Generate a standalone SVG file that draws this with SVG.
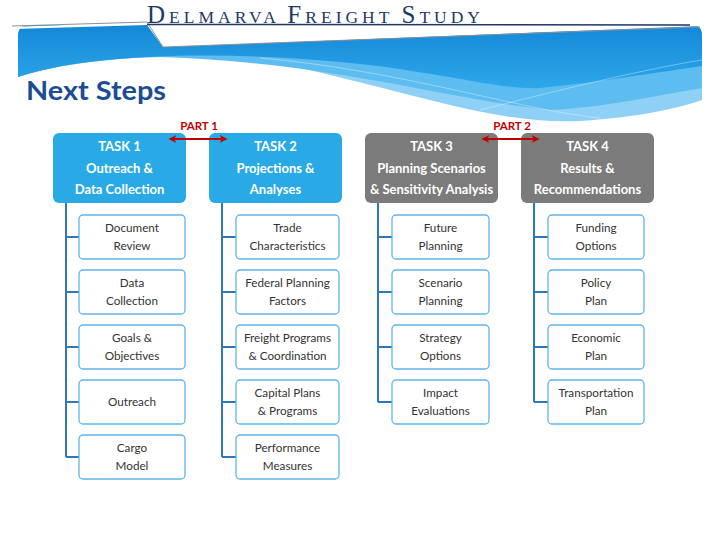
<svg xmlns="http://www.w3.org/2000/svg" width="720" height="540" viewBox="0 0 720 540">
<defs>
<linearGradient id="bandG" x1="0" y1="0" x2="0" y2="1">
<stop offset="0" stop-color="#1488d6"/>
<stop offset="1" stop-color="#2ea7ea"/>
</linearGradient>
<marker id="ah" viewBox="0 0 10 10" refX="8" refY="5" markerWidth="4" markerHeight="4" orient="auto-start-reverse">
<path d="M0,0 L10,5 L0,10 L3,5 Z" fill="#c00000"/>
</marker>
<style>
.task{fill:#29a9e6}
.task.gray{fill:#7b7b7b}
.tt{font-family:Lato,"Open Sans",sans-serif;font-weight:bold;font-size:13px;fill:#fff;text-anchor:middle}
.child{fill:#fff;stroke:#5cb6ec;stroke-width:1.3}
.ct{font-family:Lato,"Open Sans",sans-serif;font-size:11.7px;fill:#333;text-anchor:middle}
.conn{fill:none;stroke:#2f78b8;stroke-width:2}
.part{font-family:Lato,"Open Sans",sans-serif;font-weight:bold;font-size:11.5px;fill:#c00000;text-anchor:middle}
.parr{stroke:#c00000;stroke-width:2;fill:none}
</style>
</defs>
<rect width="720" height="540" fill="#fff"/>
<g id="header">
<path d="M18,36 Q18,25 30,25 L692,25 Q702,25 702,36 L702,100 C680,108 640,117 580,121 C500,125 420,95 300,68 C200,50 90,55 18,77 Z" fill="#8fd1f6"/>
<path d="M18,36 Q18,25 30,25 L692,25 Q702,25 702,36 L702,88 C660,95 600,108 550,110 C450,100 330,62 160,57 C100,58 50,66 18,77 Z" fill="#5dbdf0"/>
<path d="M18,36 Q18,25 30,25 L692,25 Q702,25 702,36 L702,66 C660,72 600,82 540,88 C500,90 450,74 360,64 C250,52 100,50 18,77 Z" fill="url(#bandG)"/>
<path d="M260,58 C400,70 520,110 600,118" fill="none" stroke="#ffffff" stroke-opacity="0.35" stroke-width="1"/>
<path d="M480,110 C560,90 640,70 702,60" fill="none" stroke="#ffffff" stroke-opacity="0.35" stroke-width="1"/>
<polygon points="10,27 147,22 702,23 702,25 163,47 147,25 14,29" fill="#ffffff"/>
<polygon points="147,22 702,24 702,26 163,47" fill="#ffffff"/>
<path d="M12,26 L147,22 L163,47 L700,27" fill="none" stroke="#8a9098" stroke-width="1"/>
<path d="M147,24.5 L690,25" stroke="#1f3864" stroke-width="1.5"/>
<text x="147" y="23" font-family="'Liberation Serif',serif" fill="#1f3864" textLength="333" lengthAdjust="spacing"><tspan font-size="25">D</tspan><tspan font-size="17.5">ELMARVA </tspan><tspan font-size="25">F</tspan><tspan font-size="17.5">REIGHT </tspan><tspan font-size="25">S</tspan><tspan font-size="17.5">TUDY</tspan></text>
<text x="26" y="100" font-family="Lato,'Open Sans',sans-serif" font-weight="bold" font-size="27" fill="#1c4d94" textLength="140" lengthAdjust="spacingAndGlyphs">Next Steps</text>
</g>
<g id="connectors">
<path class="conn" d="M66,203 V457 M66,237 H79 M66,292 H79 M66,347 H79 M66,402 H79 M66,457 H79"/>
<path class="conn" d="M222,203 V457 M222,237 H236 M222,292 H236 M222,347 H236 M222,402 H236 M222,457 H236"/>
<path class="conn" d="M378,203 V402 M378,237 H392 M378,292 H392 M378,347 H392 M378,402 H392"/>
<path class="conn" d="M534,203 V402 M534,237 H548 M534,292 H548 M534,347 H548 M534,402 H548"/>
</g>
<g id="task1">
<rect class="task" x="53" y="133" width="133" height="70" rx="6"/>
<text class="tt" x="119.5" y="150.5">TASK 1</text>
<text class="tt" x="119.5" y="172.5">Outreach &amp;</text>
<text class="tt" x="119.5" y="193.5">Data Collection</text>
</g>
<g id="task2">
<rect class="task" x="209" y="133" width="133" height="70" rx="6"/>
<text class="tt" x="275.5" y="150.5">TASK 2</text>
<text class="tt" x="275.5" y="172.5">Projections &amp;</text>
<text class="tt" x="275.5" y="193.5">Analyses</text>
</g>
<g id="task3">
<rect class="task gray" x="365" y="133" width="133" height="70" rx="6"/>
<text class="tt" x="431.5" y="150.5">TASK 3</text>
<text class="tt" x="431.5" y="172.5">Planning Scenarios</text>
<text class="tt" x="431.5" y="193.5">&amp; Sensitivity Analysis</text>
</g>
<g id="task4">
<rect class="task gray" x="521" y="133" width="133" height="70" rx="6"/>
<text class="tt" x="587.5" y="150.5">TASK 4</text>
<text class="tt" x="587.5" y="172.5">Results &amp;</text>
<text class="tt" x="587.5" y="193.5">Recommendations</text>
</g>
<g id="parts">
<text class="part" x="199" y="130">PART 1</text>
<line class="parr" x1="170" y1="139" x2="226" y2="139" marker-start="url(#ah)" marker-end="url(#ah)"/>
<text class="part" x="512" y="130">PART 2</text>
<line class="parr" x1="483" y1="139" x2="538" y2="139" marker-start="url(#ah)" marker-end="url(#ah)"/>
</g>
<g id="t1c1"><rect class="child" x="79" y="215" width="106" height="44" rx="4"/><text class="ct" x="132" y="231.5">Document</text><text class="ct" x="132" y="250">Review</text></g>
<g id="t1c2"><rect class="child" x="79" y="270" width="106" height="44" rx="4"/><text class="ct" x="132" y="286.5">Data</text><text class="ct" x="132" y="305">Collection</text></g>
<g id="t1c3"><rect class="child" x="79" y="325" width="106" height="44" rx="4"/><text class="ct" x="132" y="341.5">Goals &amp;</text><text class="ct" x="132" y="360">Objectives</text></g>
<g id="t1c4"><rect class="child" x="79" y="380" width="106" height="44" rx="4"/><text class="ct" x="132" y="406">Outreach</text></g>
<g id="t1c5"><rect class="child" x="79" y="435" width="106" height="44" rx="4"/><text class="ct" x="132" y="451.5">Cargo</text><text class="ct" x="132" y="470">Model</text></g>
<g id="t2c1"><rect class="child" x="236" y="215" width="103" height="44" rx="4"/><text class="ct" x="287.5" y="231.5">Trade</text><text class="ct" x="287.5" y="250">Characteristics</text></g>
<g id="t2c2"><rect class="child" x="236" y="270" width="103" height="44" rx="4"/><text class="ct" x="287.5" y="286.5">Federal Planning</text><text class="ct" x="287.5" y="305">Factors</text></g>
<g id="t2c3"><rect class="child" x="236" y="325" width="103" height="44" rx="4"/><text class="ct" x="287.5" y="341.5">Freight Programs</text><text class="ct" x="287.5" y="360">&amp; Coordination</text></g>
<g id="t2c4"><rect class="child" x="236" y="380" width="103" height="44" rx="4"/><text class="ct" x="287.5" y="396.5">Capital Plans</text><text class="ct" x="287.5" y="415">&amp; Programs</text></g>
<g id="t2c5"><rect class="child" x="236" y="435" width="103" height="44" rx="4"/><text class="ct" x="287.5" y="451.5">Performance</text><text class="ct" x="287.5" y="470">Measures</text></g>
<g id="t3c1"><rect class="child" x="392" y="215" width="97" height="44" rx="4"/><text class="ct" x="440.5" y="231.5">Future</text><text class="ct" x="440.5" y="250">Planning</text></g>
<g id="t3c2"><rect class="child" x="392" y="270" width="97" height="44" rx="4"/><text class="ct" x="440.5" y="286.5">Scenario</text><text class="ct" x="440.5" y="305">Planning</text></g>
<g id="t3c3"><rect class="child" x="392" y="325" width="97" height="44" rx="4"/><text class="ct" x="440.5" y="341.5">Strategy</text><text class="ct" x="440.5" y="360">Options</text></g>
<g id="t3c4"><rect class="child" x="392" y="380" width="97" height="44" rx="4"/><text class="ct" x="440.5" y="396.5">Impact</text><text class="ct" x="440.5" y="415">Evaluations</text></g>
<g id="t4c1"><rect class="child" x="548" y="215" width="96" height="44" rx="4"/><text class="ct" x="596" y="231.5">Funding</text><text class="ct" x="596" y="250">Options</text></g>
<g id="t4c2"><rect class="child" x="548" y="270" width="96" height="44" rx="4"/><text class="ct" x="596" y="286.5">Policy</text><text class="ct" x="596" y="305">Plan</text></g>
<g id="t4c3"><rect class="child" x="548" y="325" width="96" height="44" rx="4"/><text class="ct" x="596" y="341.5">Economic</text><text class="ct" x="596" y="360">Plan</text></g>
<g id="t4c4"><rect class="child" x="548" y="380" width="96" height="44" rx="4"/><text class="ct" x="596" y="396.5">Transportation</text><text class="ct" x="596" y="415">Plan</text></g>
</svg>
